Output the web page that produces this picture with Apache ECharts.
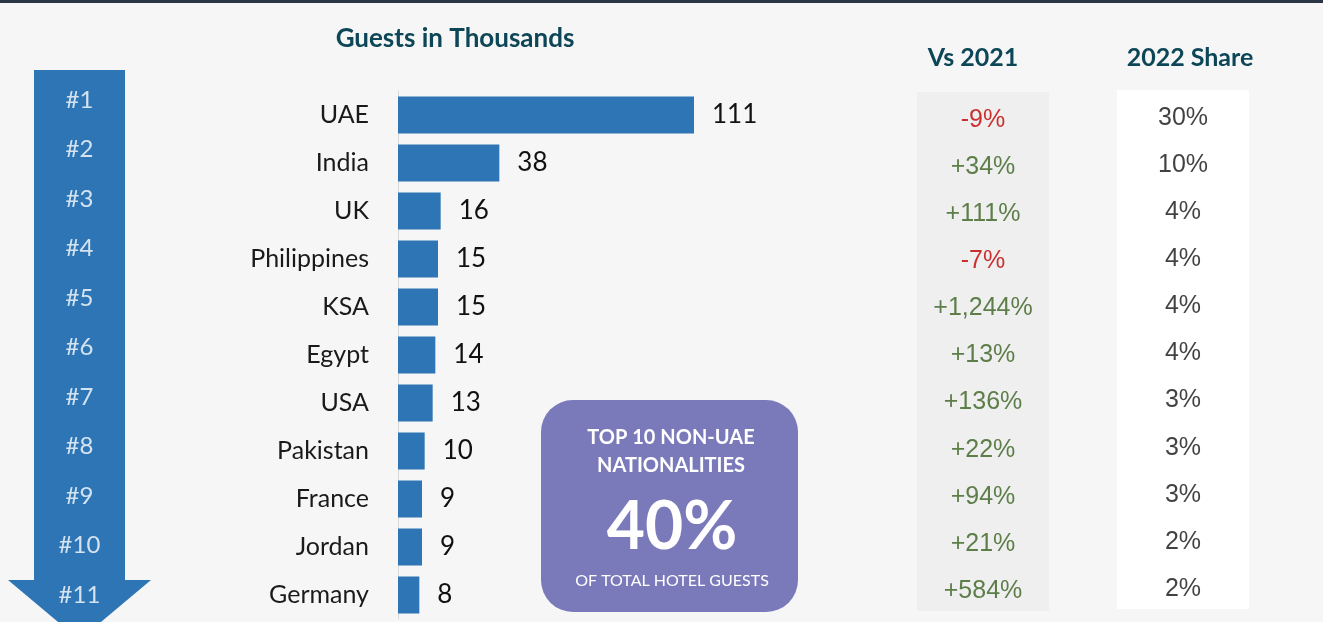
<!DOCTYPE html>
<html>
<head>
<meta charset="utf-8">
<script src="https://cdn.jsdelivr.net/npm/echarts@6/dist/echarts.min.js"></script>
<style>
  html, body { margin: 0; padding: 0; background: #f6f6f6; }
  #chart { width: 1323px; height: 622px; }
</style>
</head>
<body>
<div id="chart"></div>
<script>
// guests in thousands, 2022
const countries = ['UAE', 'India', 'UK', 'Philippines', 'KSA', 'Egypt', 'USA', 'Pakistan', 'France', 'Jordan', 'Germany'];
const guests = [111, 38, 16, 15, 15, 14, 13, 10, 9, 9, 8];
const ranks = ['#1', '#2', '#3', '#4', '#5', '#6', '#7', '#8', '#9', '#10', '#11'];
const vs2021 = ['-9%', '+34%', '+111%', '-7%', '+1,244%', '+13%', '+136%', '+22%', '+94%', '+21%', '+584%'];
const share2022 = ['30%', '10%', '4%', '4%', '4%', '4%', '3%', '3%', '3%', '2%', '2%'];

const BLUE = '#2e75b6';
const TEAL = '#0c4657';
const CAL = 'Lato, "Open Sans", sans-serif';
const ARIAL = '"Liberation Sans", Arial, sans-serif';

// a column of text cells on its own grid
function textColumn(gridIndex, labels, family, size, colorFn) {
  return {
    type: 'scatter',
    xAxisIndex: gridIndex,
    yAxisIndex: gridIndex,
    symbolSize: 0,
    silent: true,
    data: labels.map((t, i) => ({
      value: [0.5, i],
      label: { color: colorFn(t) }
    })),
    label: {
      show: true,
      position: 'inside',
      fontFamily: family,
      fontSize: size,
      formatter: p => labels[p.dataIndex]
    }
  };
}

const idx = countries.map((c, i) => i);
const hiddenX = g => ({ gridIndex: g, type: 'value', min: 0, max: 1, show: false });
const hiddenY = g => ({ gridIndex: g, type: 'category', data: idx, inverse: true, show: false });

const chart = echarts.init(document.getElementById('chart'));
chart.setOption({
  backgroundColor: '#f6f6f6',
  animation: false,
  grid: [
    { left: 398, width: 400, top: 91, height: 528 },
    { left: 917, width: 132, top: 96.5, height: 518 },
    { left: 1117, width: 132, top: 94.5, height: 518 },
    { left: 34, width: 91, top: 75, height: 545 }
  ],
  xAxis: [
    { gridIndex: 0, type: 'value', min: 0, max: 150, show: false },
    hiddenX(1), hiddenX(2), hiddenX(3)
  ],
  yAxis: [
    {
      gridIndex: 0,
      type: 'category',
      data: countries,
      inverse: true,
      axisLine: { show: true, lineStyle: { color: '#d9d9d9', width: 1 } },
      axisTick: { show: false },
      axisLabel: { margin: 29, color: '#1a1a1a', fontFamily: CAL, fontSize: 25 }
    },
    hiddenY(1), hiddenY(2), hiddenY(3)
  ],
  graphic: [
    { type: 'rect', shape: { x: 0, y: 0, width: 1323, height: 3 }, style: { fill: '#2b3645' } },
    { type: 'rect', shape: { x: 917, y: 92, width: 132, height: 519 }, style: { fill: '#efefef' }, z: -1 },
    { type: 'rect', shape: { x: 1117, y: 90, width: 132, height: 519 }, style: { fill: '#ffffff' }, z: -1 },
    {
      type: 'polygon', z: -1,
      shape: { points: [[34, 70], [125, 70], [125, 580], [151, 580], [79.5, 640], [8, 580], [34, 580]] },
      style: { fill: BLUE }
    },
    { type: 'text', x: 455, y: 39, style: { text: 'Guests in Thousands', textAlign: 'center', textVerticalAlign: 'middle', font: 'bold 26px ' + CAL, fill: TEAL } },
    { type: 'text', x: 973, y: 58, style: { text: 'Vs 2021', textAlign: 'center', textVerticalAlign: 'middle', font: 'bold 25px ' + CAL, fill: TEAL } },
    { type: 'text', x: 1190, y: 58, style: { text: '2022 Share', textAlign: 'center', textVerticalAlign: 'middle', font: 'bold 25px ' + CAL, fill: TEAL } },
    {
      type: 'rect',
      shape: { x: 541, y: 400, width: 257, height: 212, r: 32 },
      style: { fill: '#7a7abb' }
    },
    { type: 'text', x: 671, y: 438, style: { text: 'TOP 10 NON-UAE', textAlign: 'center', textVerticalAlign: 'middle', font: 'bold 20px ' + CAL, fill: '#ffffff' } },
    { type: 'text', x: 671, y: 466, style: { text: 'NATIONALITIES', textAlign: 'center', textVerticalAlign: 'middle', font: 'bold 20px ' + CAL, fill: '#ffffff' } },
    { type: 'text', x: 672, y: 528, style: { text: '40%', textAlign: 'center', textVerticalAlign: 'middle', font: 'bold 66px ' + CAL, fill: '#ffffff' } },
    { type: 'text', x: 672, y: 581, style: { text: 'OF TOTAL HOTEL GUESTS', textAlign: 'center', textVerticalAlign: 'middle', font: '16px ' + CAL, fill: '#ffffff' } }
  ],
  series: [
    {
      type: 'bar',
      xAxisIndex: 0,
      yAxisIndex: 0,
      data: guests,
      barWidth: 37,
      itemStyle: { color: BLUE },
      label: {
        show: true,
        position: 'right',
        distance: 18,
        color: '#111111',
        fontFamily: CAL,
        fontSize: 26
      }
    },
    textColumn(1, vs2021, ARIAL, 25, t => t.charAt(0) === '-' ? '#c00000' : '#38621f'),
    textColumn(2, share2022, ARIAL, 25, () => '#111111'),
    textColumn(3, ranks, CAL, 24, () => '#ffffff')
  ]
});
</script>
</body>
</html>
